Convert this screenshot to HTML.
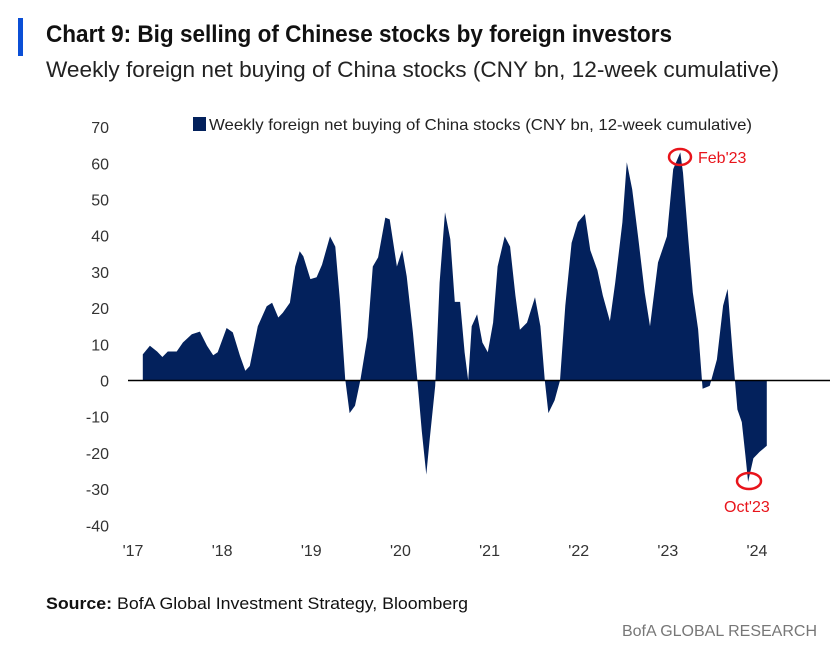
<!DOCTYPE html>
<html><head><meta charset="utf-8"><style>
body{margin:0;background:#fff;width:837px;height:650px;overflow:hidden;font-family:"Liberation Sans",sans-serif}
</style></head><body>
<svg width="837" height="650" viewBox="0 0 837 650" font-family="Liberation Sans, sans-serif">
<rect x="18" y="18" width="5" height="38" fill="#0b4fd6"/>
<text x="46" y="42" font-size="24" font-weight="bold" fill="#111" textLength="626" lengthAdjust="spacingAndGlyphs">Chart 9: Big selling of Chinese stocks by foreign investors</text>
<text x="46" y="77" font-size="22" fill="#222" textLength="733" lengthAdjust="spacingAndGlyphs">Weekly foreign net buying of China stocks (CNY bn, 12-week cumulative)</text>
<rect x="193" y="117" width="13" height="14" fill="#03215c"/>
<text x="209" y="130" font-size="16" fill="#222" textLength="543" lengthAdjust="spacingAndGlyphs">Weekly foreign net buying of China stocks (CNY bn, 12-week cumulative)</text>
<g id="yaxis"></g>
<g id="xaxis"></g>
<path id="area" fill="#03215c"/>
<line x1="128" x2="830" id="zero" stroke="#000" stroke-width="1.5"/>
<ellipse cx="680" cy="157" rx="11" ry="8" fill="none" stroke="#e8141b" stroke-width="2.5"/>
<text x="698" y="163" font-size="16" fill="#e8141b">Feb'23</text>
<ellipse cx="749" cy="481" rx="12" ry="8" fill="none" stroke="#e8141b" stroke-width="2.5"/>
<text x="724" y="512" font-size="16" fill="#e8141b">Oct'23</text>
<text x="46" y="609" font-size="17" fill="#111" textLength="422" lengthAdjust="spacingAndGlyphs"><tspan font-weight="bold">Source:</tspan> BofA Global Investment Strategy, Bloomberg</text>
<text x="817" y="636" font-size="16" fill="#777" text-anchor="end">BofA GLOBAL RESEARCH</text>
</svg>
<script>
const yTicks=[70,60,50,40,30,20,10,0,-10,-20,-30,-40];
const xTickYears=[2017,2018,2019,2020,2021,2022,2023,2024];
const xTickLabels=["'17","'18","'19","'20","'21","'22","'23","'24"];
const dates=[2017.11,2017.19,2017.27,2017.33,2017.39,2017.49,2017.56,2017.66,2017.75,2017.83,2017.90,2017.95,2018.05,2018.12,2018.20,2018.26,2018.31,2018.40,2018.50,2018.56,2018.63,2018.68,2018.76,2018.82,2018.87,2018.91,2018.99,2019.06,2019.12,2019.21,2019.27,2019.32,2019.38,2019.43,2019.49,2019.55,2019.63,2019.69,2019.75,2019.83,2019.88,2019.96,2020.02,2020.07,2020.14,2020.19,2020.24,2020.29,2020.33,2020.39,2020.44,2020.50,2020.56,2020.61,2020.67,2020.72,2020.76,2020.80,2020.86,2020.92,2020.98,2021.04,2021.09,2021.17,2021.23,2021.29,2021.34,2021.42,2021.51,2021.57,2021.62,2021.66,2021.73,2021.79,2021.85,2021.92,2021.99,2022.07,2022.13,2022.21,2022.27,2022.35,2022.41,2022.49,2022.54,2022.60,2022.67,2022.74,2022.80,2022.89,2022.99,2023.06,2023.14,2023.17,2023.23,2023.28,2023.34,2023.39,2023.47,2023.55,2023.62,2023.67,2023.73,2023.78,2023.83,2023.87,2023.90,2023.96,2024.03,2024.11];
const values=[7.2,9.6,8,6.5,8,8,10.5,12.8,13.5,9.6,7,7.8,14.5,13.3,6.8,2.7,4,15,20.5,21.5,17.4,18.7,21.5,31.5,35.7,34.3,28,28.5,32,39.8,37,22.5,0.4,-9,-7,0,12,31.5,34,45,44.5,31.5,36,28.8,13.3,0,-14,-26,-16,-1.5,27,46.5,39,21.7,21.7,7.8,0,15,18.3,10.5,7.8,16,31.5,39.8,37,23.5,14,16,23,15,0,-9,-5.5,0,20.7,38,43.7,46,36,30.5,23.5,16.4,27,43.7,60.3,52.8,39,24.3,15,32.6,39.8,58.4,63,57.4,39,24.3,14.2,-2.3,-1.5,5.8,20.7,25.3,6.7,-8,-11.5,-20.7,-28,-21.5,-19.7,-18];
const NS='http://www.w3.org/2000/svg';
const y=v=>380.5-v*3.62;
const x=t=>133+(t-2017)*89.14;
document.getElementById('zero').setAttribute('y1',y(0));
document.getElementById('zero').setAttribute('y2',y(0));
const ya=document.getElementById('yaxis');
yTicks.forEach(v=>{const t=document.createElementNS(NS,'text');
t.setAttribute('x',109);t.setAttribute('y',y(v)+6);t.setAttribute('text-anchor','end');
t.setAttribute('font-size','16');t.setAttribute('fill','#333');t.textContent=v;


ya.appendChild(t);});
const xa=document.getElementById('xaxis');
xTickYears.forEach((yr,i)=>{const t=document.createElementNS(NS,'text');
t.setAttribute('x',x(yr));t.setAttribute('y',556);t.setAttribute('text-anchor','middle');
t.setAttribute('font-size','16');t.setAttribute('fill','#333');t.textContent=xTickLabels[i];


xa.appendChild(t);});
let d='M'+x(dates[0])+','+y(0);
dates.forEach((t,i)=>{d+=' L'+x(t).toFixed(1)+','+y(values[i]).toFixed(1);});
d+=' L'+x(dates[dates.length-1])+','+y(0)+' Z';
document.getElementById('area').setAttribute('d',d);
</script>
</body></html>
